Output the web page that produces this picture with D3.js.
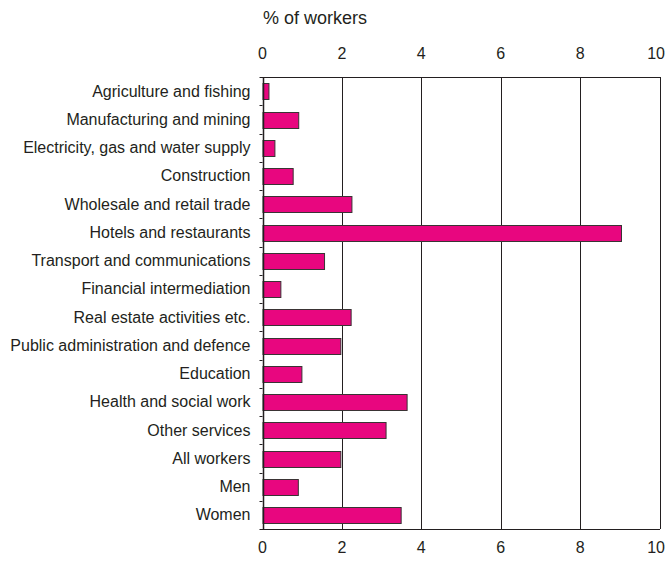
<!DOCTYPE html>
<html>
<head>
<meta charset="utf-8">
<script src="https://cdn.jsdelivr.net/npm/d3@7"></script>
<style>
  body { margin: 0; background: #fff; }
  svg { display: block; }
  text { font-family: "Liberation Sans", Arial, sans-serif; fill: #231f20; }
</style>
</head>
<body>
<div id="chart"></div>
<script>
const categories = [
  "Agriculture and fishing",
  "Manufacturing and mining",
  "Electricity, gas and water supply",
  "Construction",
  "Wholesale and retail trade",
  "Hotels and restaurants",
  "Transport and communications",
  "Financial intermediation",
  "Real estate activities etc.",
  "Public administration and defence",
  "Education",
  "Health and social work",
  "Other services",
  "All workers",
  "Men",
  "Women"
];
const values = [0.15, 0.9, 0.3, 0.76, 2.24, 9.03, 1.55, 0.45, 2.22, 1.96, 0.98, 3.63, 3.1, 1.96, 0.89, 3.48];
const xTicks = [0, 2, 4, 6, 8, 10];
const axisTitle = "% of workers";

const W = 666, H = 565;
const margin = { top: 77, right: 6.5, bottom: 36, left: 262.5 };
const svg = d3.select("#chart").append("svg").attr("width", W).attr("height", H);

const x = d3.scaleLinear().domain([0, 10]).range([margin.left, W - margin.right]);
const y = d3.scaleBand().domain(categories).range([margin.top, H - margin.bottom]).paddingInner(0.45).paddingOuter(0.225);
const yb = d3.scaleBand().domain(categories).range([margin.top, H - margin.bottom]);

const stroke = "#231f20";

// gridlines
svg.append("g").selectAll("line").data(xTicks.filter(d => d > 0)).join("line")
  .attr("x1", d => Math.round(x(d)) + 0.5).attr("x2", d => Math.round(x(d)) + 0.5)
  .attr("y1", margin.top).attr("y2", H - margin.bottom)
  .attr("stroke", stroke).attr("stroke-width", 1);

// top and bottom lines
[margin.top, H - margin.bottom].forEach(yy => {
  svg.append("line").attr("x1", margin.left - 3).attr("x2", x(10) + 0.5)
    .attr("y1", Math.round(yy) + 0.5).attr("y2", Math.round(yy) + 0.5)
    .attr("stroke", stroke).attr("stroke-width", 1);
});

// bars
svg.append("g").selectAll("rect").data(values).join("rect")
  .attr("x", x(0) + 0.5)
  .attr("y", (d, i) => Math.round(y(categories[i])) + 0.5)
  .attr("width", d => x(d) - x(0))
  .attr("height", Math.round(y.bandwidth()))
  .attr("fill", "#e8067f")
  .attr("stroke", "#3a3334").attr("stroke-width", 1);

// left axis
svg.append("line").attr("x1", Math.round(x(0)) + 0.5).attr("x2", Math.round(x(0)) + 0.5)
  .attr("y1", margin.top).attr("y2", H - margin.bottom)
  .attr("stroke", stroke).attr("stroke-width", 1.5);
svg.append("g").selectAll("line").data(categories.slice(1)).join("line")
  .attr("x1", margin.left - 3).attr("x2", margin.left)
  .attr("y1", d => Math.round(yb(d)) + 0.5).attr("y2", d => Math.round(yb(d)) + 0.5)
  .attr("stroke", stroke).attr("stroke-width", 1);

// category labels
svg.append("g").selectAll("text").data(categories).join("text")
  .attr("x", margin.left - 12)
  .attr("y", d => yb(d) + yb.bandwidth() / 2)
  .attr("dy", "0.35em")
  .attr("text-anchor", "end")
  .attr("font-size", 16)
  .text(d => d);

// tick labels (last one kept inside the window edge)
const tickX = d => d === 10 ? W - 1 : x(d);
const tickAnchor = d => d === 10 ? "end" : "middle";
[53, 547].forEach(ty => {
  svg.append("g").selectAll("text").data(xTicks).join("text")
    .attr("x", tickX).attr("y", ty).attr("dy", "0.35em")
    .attr("text-anchor", tickAnchor).attr("font-size", 16)
    .text(d => d);
});

// title
svg.append("text").attr("x", 263).attr("y", 18).attr("dy", "0.35em")
  .attr("font-size", 18).text(axisTitle);
</script>
</body>
</html>
